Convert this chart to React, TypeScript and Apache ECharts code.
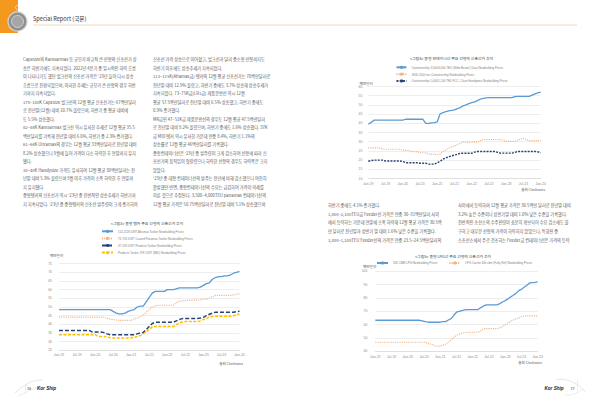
import React, { useEffect, useRef } from "react";
import * as echarts from "echarts";

// ---------- categories ----------
const monthNames = ["Jan", "Feb", "Mar", "Apr", "May", "Jun", "Jul", "Aug", "Sep", "Oct", "Nov", "Dec"];
const yearNames = ["19", "20", "21", "22", "23"];
const months: string[] = [];
yearNames.forEach((y) => monthNames.forEach((m) => months.push(m + "-" + y)));
months.push("Jan-24");

// ---------- chart 3 : mid-size tankers (USD million) ----------
const tankerAframax = [
  48.5, 48.5, 48.5, 48.5, 48.5, 48.5, 48.5, 48.5, 48.5, 48.5, 48.5, 48.5, 48.5, 48.5, 48.5, 48.5, 48.5, 48.5,
  47.5, 46.5, 46, 46, 46.5, 47.5, 48, 48.5, 50, 50.5, 50.5, 53, 55.5, 58, 59, 59, 59, 59, 60, 60, 60, 60.5, 61,
  61, 61, 61, 61, 61, 61,
  61.5, 62.5, 63.5, 64, 66, 67, 67.5, 67.5, 68, 68, 68.5, 69.5, 70, 70.5,
];
const tankerPanamax = [
  44.2, 44.2, 44.2, 44.2, 44.2, 44.2, 44.2, 44.2, 44.2, 44.2, 44.2, 44.2, 44.2, 44.2, 44.2,
  44, 43.5, 43, 42.8, 42.5, 42.3, 42.3, 42.3, 42.3, 42.3,
  43, 43.7, 44.5, 45.2, 47, 48.5, 50, 50.6, 51, 51, 51, 51, 51, 51,
  52.5, 53.3, 53.5, 53.7, 53.8, 54, 54, 54, 54.2, 54.5, 54.5, 55.2, 56,
  56.7, 56.7, 56.7, 56.7, 56.7, 56.7, 57, 57.3, 57.7,
];
const tankerMR = [
  36.5, 36.5, 36.5, 36.5, 36.5, 36.5, 36.5, 36.5, 36.5, 36.5, 36.5, 35.6, 35.6, 35.6, 35.6, 35.2, 34.5,
  34, 34, 34, 34, 34, 34, 34, 34, 34, 34.5, 35, 35.3, 37, 38.8, 40.5,
  41.2, 41.2, 41.2, 41.2, 41.2, 41.2, 41.2, 42, 42.8, 43.3, 43.3, 43.3, 43.3, 43.3, 43.3,
  43.6, 44, 45, 45.8, 46.5, 47, 47, 47, 47, 47, 47, 47, 47.3, 47.5,
];
const tankerMID = [
  34, 34, 34, 34, 34, 34, 34, 34, 34, 34, 34, 34, 34, 33, 33, 33, 33, 32.2,
  32.1, 32.1, 32.1, 32.1, 32.1, 32.1, 32.1, 32.5, 33, 33.5, 34.4, 35.8, 37, 38.5,
  38.7, 38.7, 38.7, 38.7, 38.7, 38.7, 38.7, 39.8, 40.8, 41.3, 41.6, 41.6, 41.6, 41.6, 41.6,
  42, 42.7, 43.3, 44.2, 44.5, 44.6, 44.6, 44.6, 44.6, 44.6, 44.6, 45, 45.5, 46,
];

// ---------- chart 4 : mid-size containerships ----------
const boxWideBeam = [
  39.5, 40.5, 41.7, 41.7, 41.7, 41.7, 41.7, 41.7, 41.7, 41.7, 41.7, 41.7, 41.7,
  42.2, 42.2, 42.2, 42.2, 42.2, 42.2, 42.2,
  40, 40, 40.2, 40.4, 40.8, 45.2, 45.8, 46.3, 46.8, 47, 47.3, 48, 48.5, 49.5, 50, 50.7, 51.2, 51.6, 52.3, 53.2, 53.6, 53.8,
  53.9, 53.9, 53.9, 53.9, 53.9, 53.9, 53.9, 53.9, 53.9, 54.5, 54.6, 54.6, 54.6, 54.6, 54.6, 55.3, 56, 56.5, 57,
];
const boxFeeder1800 = [
  26.6, 26.6, 26.6, 26.6, 26.6, 25.9, 25.9, 25.9, 25.9, 25.9, 25.9, 25.9, 25.3, 25.3, 25.3,
  24.6, 24.6, 24.6, 24, 24, 24, 23.3, 23.3, 23.3, 22.9, 23.3, 24.5, 25.6, 26.4, 27.2, 27.6, 28.4, 29.2,
  29.8, 29.8, 29.8, 29.8, 29.8, 29.8, 30.6, 31.2, 31.2, 31.2, 31.2, 31.2, 31.2, 31.2,
  30.7, 30.2, 30.2, 30.2, 30.2, 30.8, 31.4, 31.8, 31, 30.6, 30.6, 30.6, 30.6, 30.6,
];
const boxFeeder1000 = [
  19.4, 19.8, 20, 20, 20, 20, 19.5, 19.5, 19.5, 19.5, 19.5, 19.5, 19.2, 18.6, 18.6, 18.6, 18.6, 18.6,
  18.3, 18.3, 18.3, 17.8, 17.8, 17.8, 18.6, 19.4, 20.5, 21.2, 21.8, 22.3, 22.7, 23.2,
  23.7, 23.7, 23.7, 23.7, 23.7, 24.3, 24.7, 24.7, 24.7, 24.7, 24.7, 24.7, 24.7, 24.2,
  23.8, 23.8, 23.8, 23.8, 23.8, 24.2, 24.7, 24.7, 24.7, 24.7, 24.7, 24.7, 24.7, 24.5, 24,
];

// ---------- chart 5 : mid-size LPG carriers ----------
const lpg35k = [
  63.3, 63.3, 63.3, 63.3, 63.3, 63.3, 63.3, 63.3, 63.3, 63.3, 63.3, 63.3, 63.3, 63.3, 63.3, 63.3, 63.3,
  63, 62.5, 62, 61.8, 61.8, 61.8, 61.8, 61.8, 62.2, 62.3, 63.5, 64.5, 67, 69.3, 70, 70.5, 71,
  71.3, 71.3, 71.3, 71.3, 71.3, 72.8, 74, 74.8, 74.8, 74.8, 74.8, 74.8,
  75.8, 77, 78, 79.3, 80.8, 82, 83.5, 85.5, 86.5, 88, 89.5, 91.3, 91.5, 91.7, 92,
];
const lpg40k = [
  46.8, 46.8, 46.8, 46.8, 46.8, 46.8, 46.8, 46.8, 46.8, 46.8, 46.8, 46.8, 46.8, 46.8, 46.8, 46.8, 46.8, 46.8, 46.8,
  46.3, 45.6, 45, 44.2, 43.8, 44, 44.5, 45.5, 46.8, 48.5, 50.5, 51.8, 52.8, 53.5, 54,
  54.3, 54.3, 54.3, 54.3, 54.3, 55.5, 57, 57, 57, 57, 57, 57,
  57.7, 58.5, 59.8, 61.3, 62.5, 63.5, 64.3, 65, 66, 66.5, 66.5, 66.5, 66.5, 66.5, 66.5,
];

// ---------- texts ----------
const leftCol1 = [
  "Capesize와 Kamsarmax 등 규모가 비교적 큰 선형의 신조선가 상",
  "승은 하반기에도 지속되었다. 2022년 4분기 중 일시적인 하락 흐름",
  "이 나타나기도 했던 벌크선의 신조선 가격은 '23년 들어 다시 상승",
  "흐름으로 전환되었으며, 이러한 추세는 규모가 큰 선형의 경우 하반",
  "기까지 지속되었다.",
  "170~180K Capesize 벌크선의 12월 평균 신조선가는 67백만달러",
  "로 전년말(12월) 대비 10.7% 올랐으며, 하반기 중 평균 대비에",
  "도 5.5% 상승했다.",
  "82~84K Kamsarmax 벌크선 역시 유사한 추세로 12월 평균 35.5",
  "백만달러를 기록해 전년말 대비 6.0%, 하반기 중 2.3% 증가했다.",
  "61~64K Ultramax의 경우는 12월 평균 33백만달러로 전년말 대비",
  "8.2% 상승했으나 9월에 들어 가격이 다소 하락한 후 연말까지 유지",
  "됐다.",
  "38~40K Handysize 가격도 유사하여 12월 평균 30백만달러는 전",
  "년말 대비 5.3% 올랐으며 9월 이후 가격이 소폭 하락한 후 연말까",
  "지 유지됐다.",
  "중형탱커의 신조선가 역시 '23년 중 전반적인 상승추세가 하반기까",
  "지 지속되었다. '23년 중 중형탱커의 신조선 발주량이 크게 증가하여",
];
const leftCol2 = [
  "신조선 가격 상승으로 이어졌고, 벌크선과 달리 중소형 선형까지도",
  "하반기 이후에도 상승추세가 지속되었다.",
  "113~115K(Aframax급) 탱커의 12월 평균 신조선가는 70백만달러로",
  "전년말 대비 12.9% 올랐고, 하반기 중에도 3.7% 상승해 상승추세가",
  "지속되었다. 73~75K급(LR1급) 제품운반선 역시 12월",
  "평균 57.5백만달러로 전년말 대비 6.5% 상승했고, 하반기 중에도",
  "0.9% 증가했다.",
  "MR급인 47~51K급 제품운반선의 경우도 12월 평균 47.5백만달러",
  "로 전년말 대비 9.2% 올랐으며, 하반기 중에도 1.6% 상승했다. 37K",
  "급 MID 탱커 역시 유사한 가운데 연중 8.4%, 하반기 1.1%의",
  "상승률로 12월 평균 46백만달러를 기록했다.",
  "중형컨테이너선은 '23년 중 발주량이 크게 감소하여 선형에 따라 신",
  "조선가의 움직임이 엇갈렸으나 하락한 선형의 경우도 하락폭은 크지",
  "않았다.",
  "'23년 중 대형 컨테이너선의 발주는 전년에 비해 감소했으나 여전히",
  "활발했던 반면, 중형컨테이너선의 수요는 급감하여 가격이 약세를",
  "이룬 것으로 추정된다. 3,500~4,000TEU panamax 컨테이너선의",
  "12월 평균 가격은 50.75백만달러로 전년말 대비 5.1% 상승했으며",
];
const rightCol1 = [
  "하반기 중에도 4.1% 증가했다.",
  "1,800~2,100TEU급 Feeder선 가격은 연중 30~31백만달러 사이",
  "에서 등락하는 가운데 연말에 소폭 하락해 12월 평균 가격은 30.5백",
  "만 달러로 전년말과 상반기 말 대비 1.6% 낮은 수준을 기록했다.",
  "1,000~1,100TEU Feeder선의 가격은 연중 23.5~24.5백만달러의",
];
const rightCol2 = [
  "사이에서 등락하며 12월 평균 가격은 30.5백만 달러로 전년말 대비",
  "3.2% 높은 수준이나 상반기말 대비 1.0% 낮은 수준을 기록했다.",
  "전반적인 조선소의 수주잔량이 충분히 확보되어 수요 감소에도 불",
  "구하고 대부분 선형의 가격이 하락하지 않았으나, 특화된 중",
  "소조선소에서 주로 건조하는 Feeder급 컨테이너선은 가격의 등락",
];

const seriesNames = {
  t1: "113-115K DWT Aframax Tanker Newbuilding Prices",
  t2: "73-75K DWT Coated Panamax Tanker Newbuilding Prices",
  t3: "47-51K DWT Products Tanker Newbuilding Prices",
  t4: "Products Tanker 37K DWT (MID) Newbuilding Prices",
  c1: "Containership 3,500/4,000 TEU (Wide Beam) Class Newbuilding Prices",
  c2: "1800-2100 teu Containership Newbuilding Prices",
  c3: "Containership 1,000/1,100 TEU FCC, Class Handymax Newbuilding Prices",
  l1: "35K CBM LPG Newbuilding Prices",
  l2: "LPG Carrier 40k cbm (Fully Ref) Newbuilding Prices",
};

const KR = "'Noto Sans CJK KR', 'Noto Sans', sans-serif";
const LAT = "'Liberation Sans', Arial, sans-serif";

const BLUE = "#5b9bd5";
const ORANGE = "#f4b183";
const NAVY = "#264478";
const YELLOW = "#ffc000";

function lineSeries(name: string, data: number[], idx: number, color: string, dash: any, width: number) {
  return {
    type: "line",
    name,
    data,
    xAxisIndex: idx,
    yAxisIndex: idx,
    symbol: "none",
    smooth: false,
    lineStyle: { color, width, type: dash },
    itemStyle: { color },
  };
}

function xAxis(idx: number, margin: number) {
  return {
    type: "category",
    gridIndex: idx,
    data: months,
    boundaryGap: false,
    axisTick: { show: false },
    axisLine: { lineStyle: { color: "#d9d9d9", width: 0.7 } },
    axisLabel: { interval: 5, fontSize: 3.4, color: "#8a8a8a", margin, fontFamily: LAT },
    splitLine: { show: false },
  };
}

function yAxis(idx: number, min: number, max: number, interval: number, margin: number) {
  return {
    type: "value",
    gridIndex: idx,
    min,
    max,
    interval,
    axisLine: { show: false },
    axisTick: { show: false },
    axisLabel: { fontSize: 3.4, color: "#8a8a8a", margin, fontFamily: LAT },
    splitLine: { lineStyle: { color: "#e3e3e3", width: 0.6 } },
  };
}

function textBlock(lines: string[], x: number, yCenterFirst: number, lh: number) {
  return {
    type: "text",
    x,
    y: yCenterFirst - lh / 2,
    silent: true,
    style: {
      text: lines.join("\n"),
      fontSize: 4.2,
      lineHeight: lh,
      fontFamily: KR,
      fill: "#5a5a5a",
      verticalAlign: "top",
    },
  };
}

function label(text: string, x: number, y: number, size: number, fill: string, align = "left", extra: any = {}) {
  return {
    type: "text",
    x,
    y,
    silent: true,
    style: { text, fontSize: size, fill, align, verticalAlign: "middle", fontFamily: KR, ...extra },
  };
}

export default function App() {
  const ref = useRef<HTMLDivElement>(null);
  useEffect(() => {
    if (!ref.current) return;
    const chart = echarts.init(ref.current, undefined, { renderer: "svg" });
    const legendText = { fontSize: 2.9, color: "#7f7f7f", fontFamily: LAT, lineHeight: 4 };
    chart.setOption({
      animation: false,
      backgroundColor: "#ffffff",
      grid: [
        { left: 59, top: 263.7, width: 180.5, height: 86.6 },
        { left: 368.3, top: 86.5, width: 172.4, height: 92 },
        { left: 375.3, top: 271.3, width: 162.4, height: 80 },
      ],
      xAxis: [xAxis(0, 3), xAxis(1, 3.5), xAxis(2, 4)],
      yAxis: [yAxis(0, 25, 75, 5, 7), yAxis(1, 10, 60, 5, 6), yAxis(2, 40, 100, 10, 8)],
      legend: [
        {
          orient: "vertical",
          left: 101,
          top: 229.3,
          padding: 0,
          itemWidth: 11,
          itemHeight: 4,
          itemGap: 3.1,
          textStyle: legendText,
          data: [seriesNames.t1, seriesNames.t2, seriesNames.t3, seriesNames.t4],
        },
        {
          orient: "vertical",
          left: 395.5,
          top: 65.3,
          padding: 0,
          itemWidth: 10,
          itemHeight: 4,
          itemGap: 2.85,
          textStyle: legendText,
          data: [seriesNames.c1, seriesNames.c2, seriesNames.c3],
        },
        {
          orient: "horizontal",
          left: 376,
          top: 261,
          padding: 0,
          itemWidth: 11,
          itemHeight: 4,
          itemGap: 11,
          textStyle: legendText,
          data: [seriesNames.l1, seriesNames.l2],
        },
      ],
      series: [
        lineSeries(seriesNames.t1, tankerAframax, 0, BLUE, "solid", 1.3),
        lineSeries(seriesNames.t2, tankerPanamax, 0, ORANGE, [1.1, 1.1], 1.2),
        lineSeries(seriesNames.t3, tankerMR, 0, NAVY, [4, 2], 1.5),
        lineSeries(seriesNames.t4, tankerMID, 0, YELLOW, [3, 1.5], 1.5),
        lineSeries(seriesNames.c1, boxWideBeam, 1, BLUE, "solid", 1.3),
        lineSeries(seriesNames.c2, boxFeeder1800, 1, ORANGE, [1.1, 1.1], 1.2),
        lineSeries(seriesNames.c3, boxFeeder1000, 1, NAVY, [2, 1.2], 1.4),
        lineSeries(seriesNames.l1, lpg35k, 2, BLUE, "solid", 1.3),
        lineSeries(seriesNames.l2, lpg40k, 2, ORANGE, [1.1, 1.1], 1.2),
      ],
      graphic: [
        // header
        { type: "rect", shape: { x: 0, y: 0, width: 18, height: 33 }, style: { fill: "#f39a1e" }, silent: true },
        { type: "line", shape: { x1: 33, y1: 25, x2: 300, y2: 25 }, style: { stroke: "#e6d4b0", lineWidth: 0.8 }, silent: true },
        { type: "line", shape: { x1: 300, y1: 25, x2: 577, y2: 25 }, style: { stroke: "#e6d4b0", lineWidth: 0.8 }, silent: true },
        { type: "circle", shape: { cx: 17.5, cy: 21.5, r: 9.5 }, style: { fill: "#8f8f8f", stroke: "#d6d6d6", lineWidth: 1.2 }, silent: true },
        { type: "circle", shape: { cx: 17.5, cy: 21.5, r: 6 }, style: { fill: "#a6a6a6", stroke: "#e4e4e4", lineWidth: 0.7 }, silent: true },
        { type: "circle", shape: { cx: 17.5, cy: 7.5, r: 2 }, style: { fill: "none", stroke: "#e8e8e8", lineWidth: 0.8 }, silent: true },
        label("Special Report (국문)", 33, 19, 5.6, "#333333"),
        // body text
        textBlock(leftCol1, 23, 59, 8.5),
        textBlock(leftCol2, 153, 59, 8.5),
        textBlock(rightCol1, 328, 205, 8.7),
        textBlock(rightCol2, 458, 205, 8.7),
        // chart titles
        label("<그림3> 중형 탱커 주요 선형의 신조선가 추이", 147, 222.5, 3.9, "#404040", "center"),
        label("<그림4> 중형 컨테이너선 주요 선형의 신조선가 추이", 451.5, 58, 3.9, "#404040", "center"),
        label("<그림5> 중형 LPG선 주요 선형의 신조선가 추이", 453, 256, 3.9, "#404040", "center"),
        // axis units
        label("백만달러", 50, 255.5, 3.6, "#595959"),
        label("백만달러", 359.5, 83, 3.6, "#595959"),
        label("백만달러", 363, 266.5, 3.6, "#595959"),
        // sources
        label("출처 Clarksons", 243, 363, 3.6, "#595959", "right"),
        label("출처 Clarksons", 545, 189, 3.6, "#595959", "right"),
        label("출처 Clarksons", 542, 362.5, 3.6, "#595959", "right"),
        // footer left
        { type: "bezierCurve", shape: { x1: 15, y1: 393, x2: 43, y2: 380, cpx1: 22, cpy1: 386, cpx2: 33, cpy2: 379 }, style: { stroke: "#cfcfcf", lineWidth: 0.5, fill: "none" }, silent: true },
        { type: "bezierCurve", shape: { x1: 18, y1: 396, x2: 40, y2: 386, cpx1: 26, cpy1: 393, cpx2: 34, cpy2: 388 }, style: { stroke: "#d8d8d8", lineWidth: 0.5, fill: "none" }, silent: true },
        { type: "line", shape: { x1: 25.5, y1: 384, x2: 25.5, y2: 393 }, style: { stroke: "#cfcfcf", lineWidth: 0.4 }, silent: true },
        label("16", 27, 388, 3.8, "#404040"),
        label("Kor Ship", 37, 388, 4.6, "#1a1a1a", "left", { fontStyle: "italic", fontWeight: "bold", fontFamily: LAT }),
        // footer right
        label("Kor Ship", 544.5, 388, 4.6, "#1a1a1a", "left", { fontStyle: "italic", fontWeight: "bold", fontFamily: LAT }),
        label("17", 570.5, 388, 3.8, "#404040"),
        { type: "bezierCurve", shape: { x1: 556, y1: 380, x2: 585, y2: 392, cpx1: 566, cpy1: 377, cpx2: 580, cpy2: 384 }, style: { stroke: "#cfcfcf", lineWidth: 0.5, fill: "none" }, silent: true },
        { type: "bezierCurve", shape: { x1: 565, y1: 395, x2: 583, y2: 389, cpx1: 571, cpy1: 396, cpx2: 578, cpy2: 393 }, style: { stroke: "#d8d8d8", lineWidth: 0.5, fill: "none" }, silent: true },
        { type: "line", shape: { x1: 577.5, y1: 380, x2: 577.5, y2: 391 }, style: { stroke: "#cfcfcf", lineWidth: 0.4 }, silent: true },
      ],
    });
    return () => chart.dispose();
  }, []);
  return (
    <div
      ref={ref}
      style={{ position: "fixed", left: 0, top: 0, width: 600, height: 400, background: "#fff" }}
    />
  );
}
